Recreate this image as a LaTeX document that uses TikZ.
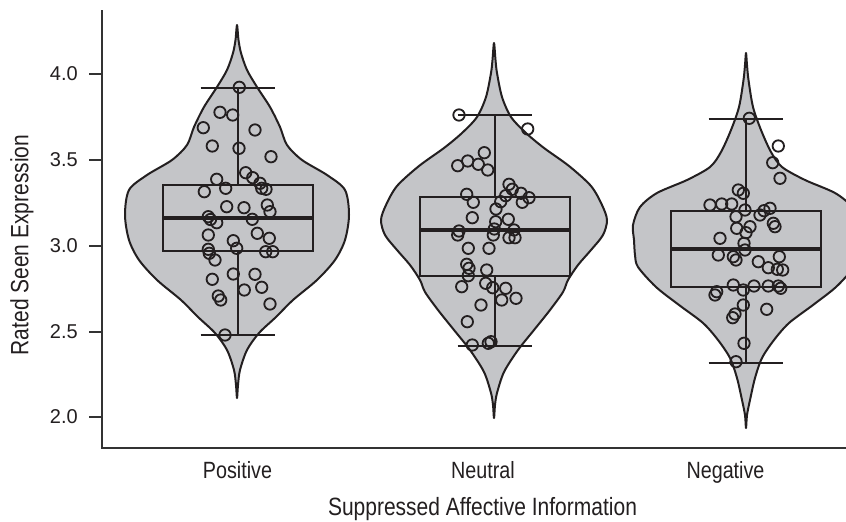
\documentclass[tikz,border=0pt]{standalone}
\usepackage{fontspec}
\setmainfont{Liberation Sans}
\newfontfamily\condfont{Liberation Sans}[FakeStretch=0.84]
\definecolor{ink}{HTML}{231F20}
\definecolor{violinfill}{HTML}{C4C5C8}
\definecolor{axisgray}{HTML}{333333}
\tikzset{
  violin/.style={fill=violinfill, draw=ink, line width=2pt, line join=round},
  boxline/.style={draw=ink, line width=2pt},
  medianline/.style={draw=ink, line width=4pt},
  dotmark/.style={draw=ink, line width=1.8pt},
  axisline/.style={draw=axisgray, line width=1.5pt},
  ticklabel/.style={font=\fontsize{20}{24}\selectfont, text=ink, inner sep=0pt, anchor=east},
  catlabel/.style={font=\condfont\fontsize{23.5}{28}\selectfont, text=ink, inner sep=0pt, anchor=base},
  titlelabel/.style={font=\condfont\fontsize{25}{30}\selectfont, text=ink, inner sep=0pt}
}
\begin{document}
\begin{tikzpicture}[x=1pt,y=-1pt]
\useasboundingbox (0,0) rectangle (846,522);
\clip (0,0) rectangle (846,522);
\fill[white] (0,0) rectangle (846,522);

% violins
\draw[violin] plot[smooth cycle, tension=0.5] coordinates {
(237,25) (238.5,40) (241,53) (247,70) (257,87) (270,107) (280,127) (287,145) (302,160) (327,175) (345,190) (349,215) (345,240) (335,260) (317,280) (293,300) (276,317) (259,333) (247,350) (240,370) (238,385) (237,398)
(236,385) (234,370) (227,350) (215,333) (198,317) (181,300) (157,280) (139,260) (129,240) (125,215) (129,190) (147,175) (172,160) (187,145) (194,127) (204,107) (217,87) (227,70) (233,53) (235.5,40)};
\draw[violin] plot[smooth cycle, tension=0.5] coordinates {
(494,43) (495.5,60) (497,73) (502,97) (511,117) (526,133) (544,148) (569,166) (591,186) (602,205) (607,220) (603,235) (591,250) (578,265) (568,280) (563,292) (550,310) (534,330) (518,350) (504,372) (497,393) (495,405) (494,418)
(493,405) (491,393) (484,372) (470,350) (454,330) (438,310) (425,292) (420,280) (410,265) (397,250) (385,235) (381,220) (386,205) (397,186) (419,166) (444,148) (462,133) (477,117) (486,97) (491,73) (492.5,60)};
\draw[violin] plot[smooth cycle, tension=0.5] coordinates {
(746,53) (747,65) (748.5,80) (753,107) (761,130) (771,152) (782,167) (805,180) (835,193) (852,207) (859,225) (858,240) (857,255) (854,267) (836,287) (813,305) (789,323) (774,340) (762,358) (755,378) (750,400) (747,415) (746,428)
(745,415) (742,400) (737,378) (730,358) (718,340) (703,323) (679,305) (656,287) (638,267) (635,255) (634,240) (633,225) (640,207) (657,193) (687,180) (710,167) (721,152) (731,130) (739,107) (743.5,80) (745,65)};

% boxes: center, box top, median, box bottom, whisker top, whisker bottom
\foreach \c/\bt/\md/\bb/\wt/\wb in {237.5/184.5/218/251/87.5/335, 494.5/196.5/230/276/115/345.5, 745.5/210.5/248.5/286.5/119/362.5}{
  \draw[boxline] (\c-75,\bt) rectangle (\c+75,\bb);
  \draw[medianline] (\c-75,\md) -- (\c+75,\md);
  \draw[boxline] (\c,\wt) -- (\c,\bt);
  \draw[boxline] (\c,\bb) -- (\c,\wb);
  \draw[boxline] (\c-37,\wt) -- (\c+37,\wt);
  \draw[boxline] (\c-37,\wb) -- (\c+37,\wb);
}

% dots: positive
\foreach \x/\y in {239.3/87.3, 220/112.3, 232.7/115, 203.3/127.7, 255/130, 212.3/146, 239/148.3, 271/156.7, 245.7/172.7, 216.7/179.3, 252.7/177.7, 260/183.3, 261.7/188.3, 266/189.3, 204.3/191.7, 225.7/188.3, 267.3/205, 226.7/206.7, 244/207.7, 270/211.7, 208.3/216.7, 210.5/219.5, 216.7/222.7, 252.3/219.3, 208.3/235, 233.3/240.7, 257.3/233.3, 269.3/238.3, 208.3/249.3, 209.3/253.3, 236.7/248.3, 265.7/251.7, 272.7/251.7, 215/260, 233.3/274, 255/274.3, 212.3/279.3, 261.7/287.3, 244.3/290, 218.3/296, 220.7/300, 270/304, 225/335}
  \draw[dotmark] (\x,\y) circle[radius=5.7pt];
% dots: neutral
\foreach \x/\y in {459/115, 527.7/129, 484.3/152.7, 467.7/161, 457.7/165.7, 478.3/164.3, 487.7/170, 509/184.3, 512.3/189.3, 521/193.3, 529/197.7, 522.3/202.3, 466.7/194.3, 473.3/202.3, 505.7/195.7, 500.7/201.7, 496/209, 472.3/217.7, 495.7/221.7, 508.3/219.3, 459/231, 457.7/235, 494.3/229, 493.3/235, 514/230, 509/237.7, 515/237.7, 468.3/248.3, 489/248.3, 466.7/264.3, 469/268.3, 468.3/275.7, 486.7/270, 461.7/286.7, 485.7/283.3, 492.7/287.7, 505.7/288.3, 501.7/300, 516/298.3, 481/305, 467.3/321.7, 472.3/345, 488.3/343.3, 491/341.7}
  \draw[dotmark] (\x,\y) circle[radius=5.7pt];
% dots: negative
\foreach \x/\y in {749.3/118.3, 778.3/146, 772.7/162.7, 780/178.3, 738.3/190, 743.3/193.3, 710/205, 721.7/204, 731.7/204, 745/210, 770/208.3, 764/210.7, 760/215, 736/216.7, 773.3/223.3, 775/226.7, 750/226.7, 736.7/228.3, 746/232.7, 720/238.3, 744/243.3, 745/250, 718.3/255, 736/260, 733.3/256.7, 779.3/256.7, 758.3/261.7, 768.3/267.7, 777.3/269.3, 782.7/270, 733.3/285, 743.3/290, 754/286, 768.3/286, 778.3/286, 780.7/288.3, 716.7/291.7, 715/295, 743.3/305, 766.7/309.3, 735/314, 732.7/317.7, 744/343.3, 736/361.7}
  \draw[dotmark] (\x,\y) circle[radius=5.7pt];

% axes
\coordinate (ytop) at (102,10);
\coordinate (origin) at (102,448);
\coordinate (xend) at (846,448);
\draw[axisline] (ytop) -- (origin) -- (xend);
\foreach \v/\yy in {4.0/74, 3.5/160, 3.0/246, 2.5/332, 2.0/417}{
  \coordinate (t\yy) at (102,\yy);
  \draw[axisline] (t\yy) -- ++(-13,0);
  \node[ticklabel] (lab\yy) at (78,\yy) {\v};
}

% labels
\node[catlabel] (pos) at (237.5,478) {Positive};
\node[catlabel] (neu) at (483,478) {Neutral};
\node[catlabel] (neg) at (725.5,478) {Negative};
\node[titlelabel, anchor=base] (xtitle) at (482.5,515) {Suppressed Affective Information};
\node[titlelabel, rotate=90] (ytitle) at (22,245) {Rated Seen Expression};
\end{tikzpicture}
\end{document}
